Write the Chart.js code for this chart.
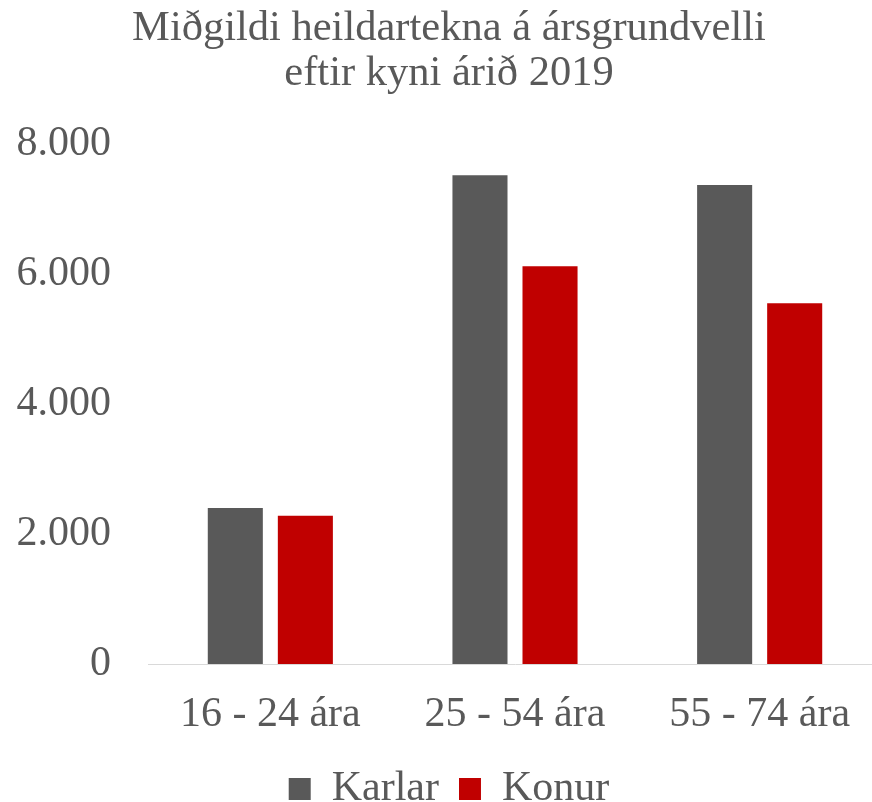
<!DOCTYPE html>
<html>
<head>
<meta charset="utf-8">
<script src="https://cdn.jsdelivr.net/npm/chart.js@4"></script>
<style>
  html, body { margin: 0; padding: 0; background: #fff; overflow: hidden; }
  #wrap { width: 882px; height: 802px; position: relative; }
</style>
</head>
<body>
<div id="wrap"><canvas id="c"></canvas></div>
<script>
const categories = ['16 - 24 ára', '25 - 54 ára', '55 - 74 ára'];
const seriesNames = ['Karlar', 'Konur'];
const karlar = [2400, 7520, 7370];
const konur = [2280, 6120, 5550];
const yTickLabels = ['0', '2.000', '4.000', '6.000', '8.000'];
const titleLines = ['Miðgildi heildartekna á ársgrundvelli', 'eftir kyni árið 2019'];

const textColor = '#595959';
const fontFamily = '"Liberation Serif", "Times New Roman", serif';
const padLeft = 16;

new Chart(document.getElementById('c'), {
  type: 'bar',
  data: {
    labels: categories,
    datasets: [
      { label: seriesNames[0], data: karlar, backgroundColor: '#595959', categoryPercentage: 0.5726, barPercentage: 0.786 },
      { label: seriesNames[1], data: konur, backgroundColor: '#c00000', categoryPercentage: 0.5726, barPercentage: 0.786 }
    ]
  },
  options: {
    responsive: true,
    maintainAspectRatio: false,
    animation: false,
    layout: { padding: { left: padLeft, right: 0, top: 0, bottom: -18 } },
    plugins: {
      title: {
        display: true,
        text: titleLines,
        color: textColor,
        font: { family: fontFamily, size: 42.5, weight: 'normal', lineHeight: 1.07 },
        padding: { top: 6, bottom: 47 }
      },
      legend: {
        position: 'bottom',
        labels: {
          color: textColor,
          font: { family: fontFamily, size: 42, lineHeight: 1.0 },
          boxWidth: 22,
          boxHeight: 22,
          padding: 20
        }
      },
      tooltip: { enabled: false }
    },
    scales: {
      x: {
        grid: { display: false, drawTicks: false },
        border: { display: true, color: '#d9d9d9', width: 1 },
        ticks: { color: textColor, font: { family: fontFamily, size: 42 }, padding: 26 },
        afterFit: (s) => { s.height = 84; }
      },
      y: {
        min: 0,
        max: 8000,
        grid: { display: false, drawTicks: false },
        border: { display: false },
        ticks: {
          stepSize: 2000,
          color: textColor,
          font: { family: fontFamily, size: 42 },
          padding: 37,
          callback: (v, i) => yTickLabels[i]
        },
        afterFit: (s) => { s.width = 148 - padLeft; }
      }
    }
  }
});
</script>
</body>
</html>
